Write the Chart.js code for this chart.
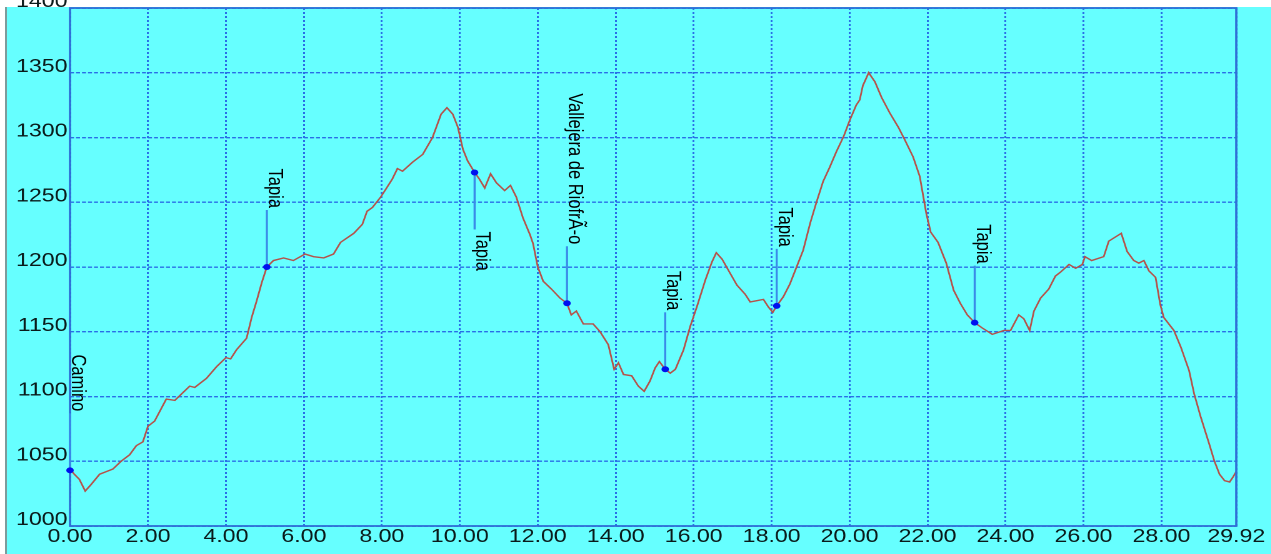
<!DOCTYPE html>
<html lang="es">
<head>
<meta charset="UTF-8">
<title>Perfil de elevación</title>
<script src="https://cdn.jsdelivr.net/npm/chart.js"></script>
<style>
  html, body { margin: 0; padding: 0; width: 1271px; height: 554px; overflow: hidden; background: #fff; }
  #panel { position: absolute; left: 5px; top: 7px; right: 0; bottom: 0; background: #66ffff; border-left: 2px solid #7c9c9c; }
  #profile { position: absolute; left: 0; top: -20px; transform: scaleX(1.25); transform-origin: 0 0; }
</style>
</head>
<body>
<div id="panel"></div>
<canvas id="profile" width="1017" height="580"></canvas>
<script>
// distance (km) and elevation (m)
const distances = [
  0, 0.11, 0.24, 0.39, 0.54, 0.76, 0.93, 1.1, 1.31, 1.53, 1.7, 1.87, 2.0, 2.17, 2.47, 2.69,
  3.07, 3.2, 3.5, 3.76, 4.0, 4.12, 4.27, 4.53, 4.66, 4.79, 4.92, 5.05, 5.22, 5.48, 5.73,
  6.03, 6.25, 6.51, 6.76, 6.94, 7.28, 7.5, 7.62, 7.76, 7.97, 8.1, 8.27, 8.4, 8.53, 8.79,
  9.05, 9.3, 9.52, 9.67, 9.82, 9.95, 10.08, 10.2, 10.38, 10.5, 10.64, 10.79, 10.94, 11.15,
  11.3, 11.45, 11.62, 11.8, 11.88, 12.0, 12.14, 12.35, 12.57, 12.75, 12.86, 12.99, 13.17,
  13.42, 13.6, 13.81, 13.96, 14.07, 14.2, 14.41, 14.58, 14.73, 14.88, 15.01, 15.12, 15.27,
  15.4, 15.53, 15.74, 15.91, 16.09, 16.3, 16.47, 16.58, 16.73, 16.9, 17.11, 17.32, 17.45,
  17.62, 17.79, 17.92, 18.03, 18.13, 18.3, 18.47, 18.64, 18.81, 18.99, 19.15, 19.32, 19.49,
  19.66, 19.85, 20.0, 20.17, 20.26, 20.34, 20.49, 20.65, 20.82, 21.03, 21.25, 21.42, 21.63,
  21.8, 21.97, 22.08, 22.27, 22.48, 22.67, 22.84, 23.02, 23.21, 23.4, 23.66, 23.96, 24.13,
  24.34, 24.47, 24.62, 24.73, 24.9, 25.11, 25.28, 25.41, 25.63, 25.8, 25.97, 26.04, 26.21,
  26.52, 26.65, 26.97, 27.12, 27.29, 27.42, 27.55, 27.68, 27.85, 27.97, 28.06, 28.32, 28.5,
  28.71, 28.84, 29.01, 29.23, 29.36, 29.49, 29.62, 29.75, 29.84, 29.92
];
const elevations = [
  1044, 1040, 1036, 1027, 1032, 1040, 1042, 1044, 1050, 1055, 1062, 1065, 1077, 1081, 1098, 1097,
  1108, 1107, 1114, 1123, 1130, 1129, 1136, 1145, 1161, 1174, 1188, 1200, 1205, 1207, 1205,
  1210, 1208, 1207, 1210, 1219, 1226, 1233, 1243, 1246, 1254, 1260, 1268, 1276, 1274, 1281,
  1287, 1300, 1318, 1323, 1318, 1308, 1291, 1282, 1273, 1268, 1261, 1272, 1265, 1259,
  1263, 1254, 1238, 1225, 1218, 1200, 1189, 1183, 1176, 1172, 1163, 1166, 1156,
  1156, 1150, 1140, 1121, 1126, 1117, 1116, 1108, 1104, 1112, 1122, 1127, 1121,
  1118, 1121, 1136, 1154, 1170, 1190, 1204, 1211, 1206, 1197, 1186, 1179, 1173,
  1174, 1175, 1169, 1165, 1170, 1177, 1187, 1200, 1213, 1234, 1250, 1266, 1277,
  1289, 1301, 1313, 1325, 1329, 1340, 1350, 1343, 1331, 1319, 1308, 1298, 1285,
  1270, 1241, 1227, 1219, 1203, 1182, 1172, 1163, 1157, 1153, 1148, 1151, 1151,
  1163, 1160, 1151, 1166, 1176, 1183, 1193, 1196, 1202, 1199, 1202, 1208, 1205,
  1208, 1220, 1226, 1212, 1205, 1203, 1205, 1197, 1192, 1171, 1161, 1151, 1138,
  1120, 1102, 1084, 1063, 1050, 1040, 1035, 1034, 1038, 1042
];

const xTicks = [0, 2, 4, 6, 8, 10, 12, 14, 16, 18, 20, 22, 24, 26, 28, 29.92];
const yTicks = [1000, 1050, 1100, 1150, 1200, 1250, 1300, 1350, 1400];

// waypoints
const wpDist = [0, 5.05, 10.38, 12.75, 15.27, 18.13, 23.21];
const wpElev = [1043, 1200, 1273, 1172, 1121, 1170, 1157];
const wpName = ['Camino', 'Tapia', 'Tapia', 'Vallejera de RiofrÃ-o', 'Tapia', 'Tapia', 'Tapia'];
const wpUp = [true, true, false, true, true, true, true];

const gridColor = '#2a6ee6';
const frameColor = '#2f6fd6';
const labelFont = '"Liberation Sans", Arial, sans-serif';

const waypointPlugin = {
  id: 'waypoints',
  afterDatasetsDraw(chart) {
    const { ctx, chartArea, scales: { x, y } } = chart;
    ctx.save();
    ctx.strokeStyle = frameColor;
    ctx.lineWidth = 1.8;
    ctx.strokeRect(chartArea.left, chartArea.top, chartArea.right - chartArea.left, chartArea.bottom - chartArea.top);

    ctx.font = '16.5px ' + labelFont;
    ctx.textBaseline = 'alphabetic';
    ctx.textAlign = 'left';
    wpName.forEach((name, i) => {
      const px = x.getPixelForValue(wpDist[i]);
      const py = y.getPixelForValue(wpElev[i]);
      const end = wpUp[i] ? py - 57 : py + 57;
      ctx.strokeStyle = '#3a8ae8';
      ctx.lineWidth = 1.7;
      ctx.beginPath();
      ctx.moveTo(px, py);
      ctx.lineTo(px, end);
      ctx.stroke();

      const w = ctx.measureText(name).width;
      const start = wpUp[i] ? end - 2 - w : end + 2;
      ctx.save();
      ctx.translate(px + 1.5, start);
      ctx.rotate(Math.PI / 2);
      ctx.fillStyle = '#000';
      ctx.fillText(name, 0, 0);
      ctx.restore();

      ctx.fillStyle = '#0010ee';
      ctx.beginPath();
      ctx.arc(px, py, 3, 0, Math.PI * 2);
      ctx.fill();
    });
    ctx.restore();
  }
};

new Chart(document.getElementById('profile'), {
  type: 'line',
  data: {
    datasets: [{
      data: distances.map((d, i) => ({ x: d, y: elevations[i] })),
      borderColor: '#b5524a',
      borderWidth: 1.4,
      pointRadius: 0,
      tension: 0,
      fill: false
    }]
  },
  options: {
    responsive: false,
    animation: false,
    devicePixelRatio: 2,
    layout: { padding: { top: 28, left: 0, right: 28, bottom: 0 } },
    plugins: { legend: { display: false }, tooltip: { enabled: false } },
    scales: {
      x: {
        type: 'linear',
        min: 0,
        max: 29.92,
        afterBuildTicks: scale => { scale.ticks = xTicks.map(v => ({ value: v })); },
        afterFit: scale => { scale.height = 34; },
        grid: { color: gridColor, lineWidth: 1.5, drawTicks: false },
        border: { display: false, dash: [2, 2] },
        ticks: {
          padding: 0,
          color: '#0a1a1a',
          font: { family: labelFont, size: 18.5 },
          maxRotation: 0,
          autoSkip: false,
          callback: v => Number(v).toFixed(2)
        }
      },
      y: {
        min: 1000,
        max: 1400,
        afterBuildTicks: scale => { scale.ticks = yTicks.map(v => ({ value: v })); },
        afterFit: scale => { scale.width = 56; },
        grid: { color: gridColor, lineWidth: 1.4, drawTicks: false },
        border: { display: false, dash: [3.2, 1.6] },
        ticks: {
          padding: 2,
          labelOffset: -6,
          color: '#0a1a1a',
          font: { family: labelFont, size: 18.5 },
          autoSkip: false,
          callback: v => String(v)
        }
      }
    }
  },
  plugins: [waypointPlugin]
});
</script>
</body>
</html>
